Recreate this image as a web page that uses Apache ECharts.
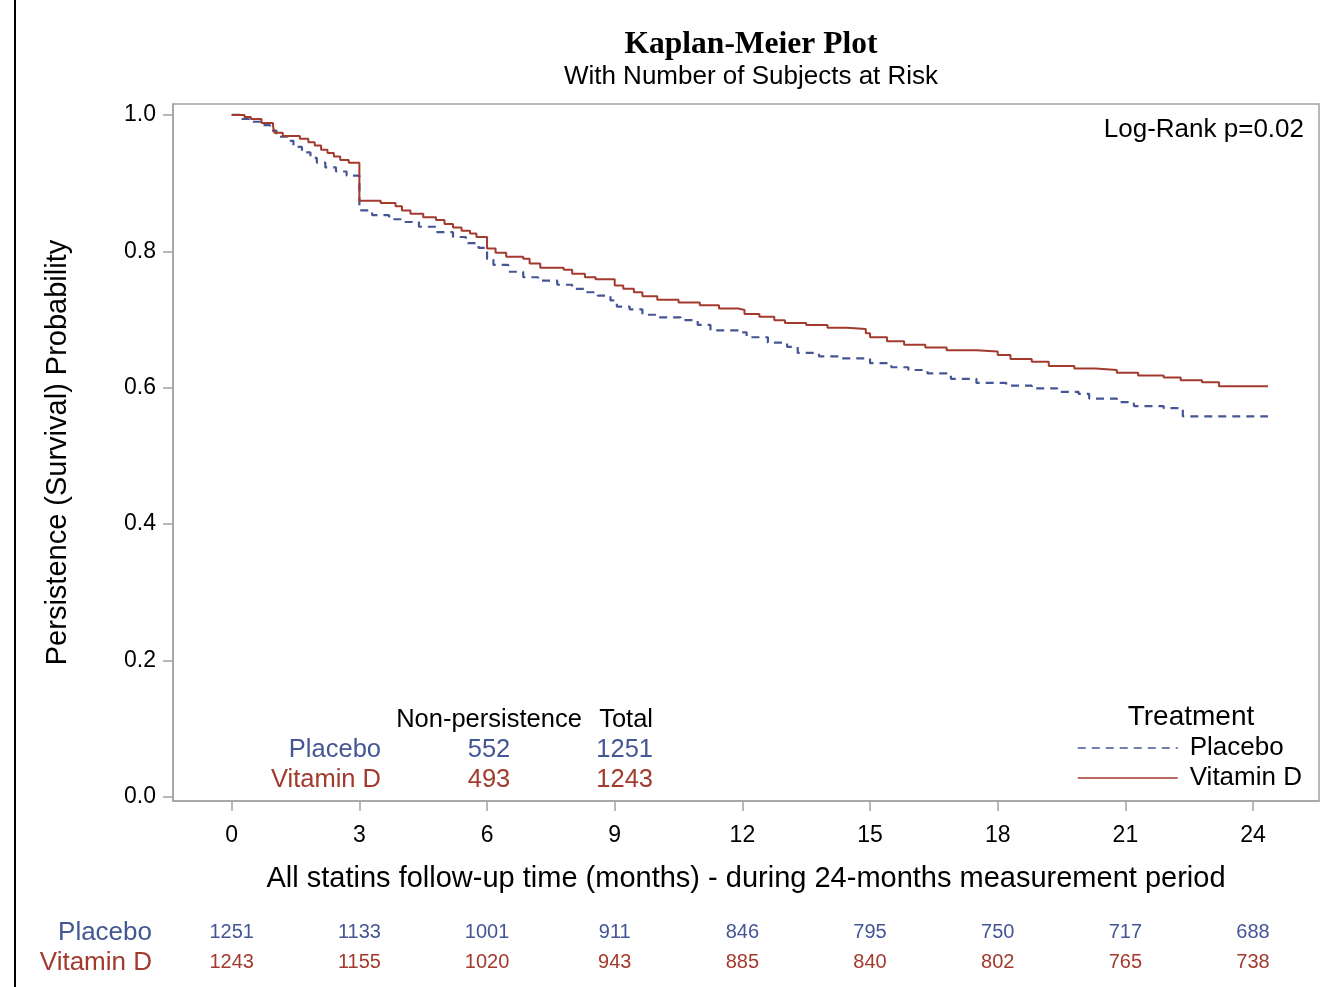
<!DOCTYPE html>
<html>
<head>
<meta charset="utf-8">
<script src="https://cdn.jsdelivr.net/npm/echarts@6/dist/echarts.min.js"></script>
<style>
	html, body { margin: 0; padding: 0; background: #fff; }
	#chart { width: 1324px; height: 987px; }
</style>
</head>
<body>
<div id="chart"></div>
<script>
// Kaplan-Meier step data (time in months, survival after the drop)
const placeboTime = [0, 0.2, 0.4, 0.7, 0.9, 1.05, 1.3, 1.45, 1.65, 1.85, 2.0, 2.2, 2.45, 2.7,
	3.0, 3.3, 3.7, 4.0, 4.4, 4.8, 5.2, 5.5, 5.8, 6.0, 6.15, 6.5, 6.85, 7.2, 7.65, 8.0, 8.35, 8.6, 8.9,
	9.05, 9.35, 9.65, 10.0, 10.55, 10.95, 11.25, 11.9, 12.1, 12.6, 13.05, 13.3, 13.8, 14.3, 15.0,
	15.5, 15.9, 16.35, 16.9, 17.5, 18.2, 18.8, 19.4, 19.9, 20.15, 20.8, 21.2, 21.9, 22.35, 24.35];
const placeboSurv = [1.0, 0.994, 0.990, 0.985, 0.977, 0.968, 0.962, 0.953, 0.945, 0.937, 0.930, 0.923, 0.917, 0.911,
	0.860, 0.853, 0.847, 0.843, 0.836, 0.828, 0.821, 0.812, 0.805, 0.789, 0.780, 0.770, 0.762, 0.757, 0.751, 0.745, 0.740, 0.735, 0.728,
	0.719, 0.715, 0.707, 0.703, 0.699, 0.692, 0.684, 0.681, 0.674, 0.666, 0.660, 0.651, 0.646, 0.643, 0.636,
	0.630, 0.626, 0.621, 0.613, 0.607, 0.603, 0.599, 0.594, 0.591, 0.584, 0.579, 0.573, 0.570, 0.558, 0.558];

const vitdTime = [0, 0.3, 0.45, 0.7, 0.97, 1.0, 1.2, 1.6, 1.8, 1.95, 2.1, 2.25, 2.4, 2.55, 2.75,
	3.0, 3.5, 3.85, 4.0, 4.2, 4.5, 4.8, 5.0, 5.2, 5.4, 5.6, 5.75, 6.0, 6.2, 6.45, 6.85, 7.0, 7.25, 7.8,
	8.0, 8.3, 8.55, 9.0, 9.2, 9.45, 9.65, 10.0, 10.5, 11.0, 11.45, 11.9, 12.05, 12.4, 12.75, 13.0, 13.5,
	14.0, 14.45, 14.9, 15.0, 15.4, 15.8, 16.3, 16.8, 17.5, 18.0, 18.3, 18.8, 19.2, 19.8, 20.3, 20.8,
	21.3, 21.9, 22.3, 22.8, 23.2, 24.35];
const vitdSurv = [1.0, 0.997, 0.994, 0.988, 0.984, 0.974, 0.969, 0.965, 0.960, 0.955, 0.949, 0.944, 0.939, 0.934, 0.930,
	0.874, 0.871, 0.866, 0.860, 0.855, 0.850, 0.846, 0.840, 0.835, 0.830, 0.826, 0.821, 0.804, 0.798, 0.792, 0.789, 0.782, 0.776, 0.773,
	0.767, 0.762, 0.759, 0.750, 0.745, 0.740, 0.734, 0.729, 0.725, 0.721, 0.716, 0.714, 0.708, 0.704, 0.699, 0.695, 0.692,
	0.688, 0.686, 0.680, 0.674, 0.668, 0.663, 0.659, 0.655, 0.653, 0.648, 0.642, 0.638, 0.632, 0.628, 0.626, 0.622,
	0.618, 0.615, 0.611, 0.608, 0.602, 0.602];

// axis ticks
const xTicks = [0, 3, 6, 9, 12, 15, 18, 21, 24];
const yTicks = [0, 0.2, 0.4, 0.6, 0.8, 1.0];

// subjects at risk
const placeboAtRisk = [1251, 1133, 1001, 911, 846, 795, 750, 717, 688];
const vitdAtRisk = [1243, 1155, 1020, 943, 885, 840, 802, 765, 738];

// inset summary
const groups = ["Placebo", "Vitamin D"];
const nonPersistence = [552, 493];
const totals = [1251, 1243];

const BLUE = "#445694";
const RED = "#A23A2E";
const FRAME = "#a3a3a3";
const SANS = "'Liberation Sans', Arial, sans-serif";

const zip = (xs, ys) => xs.map((x, i) => [x, ys[i]]);

const chart = echarts.init(document.getElementById("chart"));

const xMin = -1.38, xMax = 25.55;

const riskAxis = (gridIndex, values) => ({
	type: "value",
	gridIndex,
	min: xMin,
	max: xMax,
	axisLine: { show: false },
	axisTick: { show: false },
	splitLine: { show: false },
	axisLabel: {
		customValues: xTicks,
		margin: 0,
		fontFamily: SANS,
		fontSize: 20,
		color: gridIndex === 1 ? BLUE : RED,
		formatter: v => String(values[xTicks.indexOf(Math.round(v))])
	}
});

const tableText = (x, y, text, color, align, size) => ({
	type: "text",
	x, y,
	style: {
		text: String(text),
		fill: color,
		font: `${size || 25}px ${SANS}`,
		align: align,
		verticalAlign: "middle"
	}
});

const graphics = [
	{ type: "line", shape: { x1: 15, y1: 0, x2: 15, y2: 987 }, style: { stroke: "#000", lineWidth: 2 } },
	tableText(1304, 130, "Log-Rank p=0.02", "#000", "right", 26),
	tableText(1191, 717, "Treatment", "#000", "center", 28),
	tableText(489, 720, "Non-persistence", "#000", "center", 25.5),
	tableText(653, 720, "Total", "#000", "right", 25.5),
	tableText(152, 933, groups[0], BLUE, "right", 26),
	tableText(152, 963, groups[1], RED, "right", 26)
];
groups.forEach((g, i) => {
	const y = 750 + i * 30;
	const c = i === 0 ? BLUE : RED;
	graphics.push(tableText(381, y, g, c, "right", 25.5));
	graphics.push(tableText(489, y, nonPersistence[i], c, "center", 25.5));
	graphics.push(tableText(653, y, totals[i], c, "right", 25.5));
});

chart.setOption({
	animation: false,
	backgroundColor: "#fff",
	title: {
		text: "Kaplan-Meier Plot",
		subtext: "With Number of Subjects at Risk",
		left: 746,
		top: 24,
		textAlign: "center",
		itemGap: 3,
		textStyle: { fontFamily: "'Liberation Serif', 'Times New Roman', serif", fontWeight: "bold", fontSize: 31.5, color: "#000" },
		subtextStyle: { fontFamily: SANS, fontSize: 26, color: "#000" }
	},
	legend: {
		data: ["Placebo", "Vitamin D"],
		orient: "vertical",
		left: 1077,
		top: 735,
		padding: 0,
		itemWidth: 100,
		itemHeight: 14,
		itemGap: 4,
		itemStyle: { opacity: 0 },
		lineStyle: { width: 1.5 },
		textStyle: { fontFamily: SANS, fontSize: 26, color: "#000", padding: [0, 0, 0, 7] }
	},
	grid: [
		{ left: 173, right: 5, top: 104, bottom: 186, show: true, borderColor: FRAME, borderWidth: 1.5 },
		{ left: 173, right: 5, top: 921, height: 1 },
		{ left: 173, right: 5, top: 951, height: 1 }
	],
	xAxis: [
		{
			type: "value",
			min: xMin,
			max: xMax,
			name: "All statins follow-up time (months) - during 24-months measurement period",
			nameLocation: "middle",
			nameGap: 63,
			nameTextStyle: { fontFamily: SANS, fontSize: 29, color: "#000" },
			axisLine: { show: true, onZero: false, lineStyle: { color: FRAME, width: 1.5 } },
			axisTick: { show: true, customValues: xTicks, length: 10, lineStyle: { color: FRAME, width: 1.5 } },
			axisLabel: { customValues: xTicks, margin: 23, fontFamily: SANS, fontSize: 23, color: "#000" },
			splitLine: { show: false }
		},
		riskAxis(1, placeboAtRisk),
		riskAxis(2, vitdAtRisk)
	],
	yAxis: [
		{
			type: "value",
			min: -0.006,
			max: 1.016,
			name: "Persistence (Survival) Probability",
			nameLocation: "middle",
			nameGap: 101,
			nameTextStyle: { fontFamily: SANS, fontSize: 29, color: "#000" },
			axisLine: { show: true, onZero: false, lineStyle: { color: FRAME, width: 1.5 } },
			axisTick: { show: true, customValues: yTicks, length: 10, lineStyle: { color: FRAME, width: 1.5 } },
			axisLabel: { customValues: yTicks, margin: 17, fontFamily: SANS, fontSize: 23, color: "#000", formatter: v => v.toFixed(1) },
			splitLine: { show: false }
		},
		{ type: "value", gridIndex: 1, show: false },
		{ type: "value", gridIndex: 2, show: false }
	],
	series: [
		{
			name: "Placebo",
			type: "line",
			step: "end",
			showSymbol: false,
			symbol: "none",
			data: zip(placeboTime, placeboSurv),
			color: BLUE,
			lineStyle: { color: BLUE, width: 2.2, type: [8, 6] }
		},
		{
			name: "Vitamin D",
			type: "line",
			step: "end",
			showSymbol: false,
			symbol: "none",
			data: zip(vitdTime, vitdSurv),
			color: RED,
			lineStyle: { color: RED, width: 2 }
		}
	],
	graphic: graphics
});
</script>
</body>
</html>
